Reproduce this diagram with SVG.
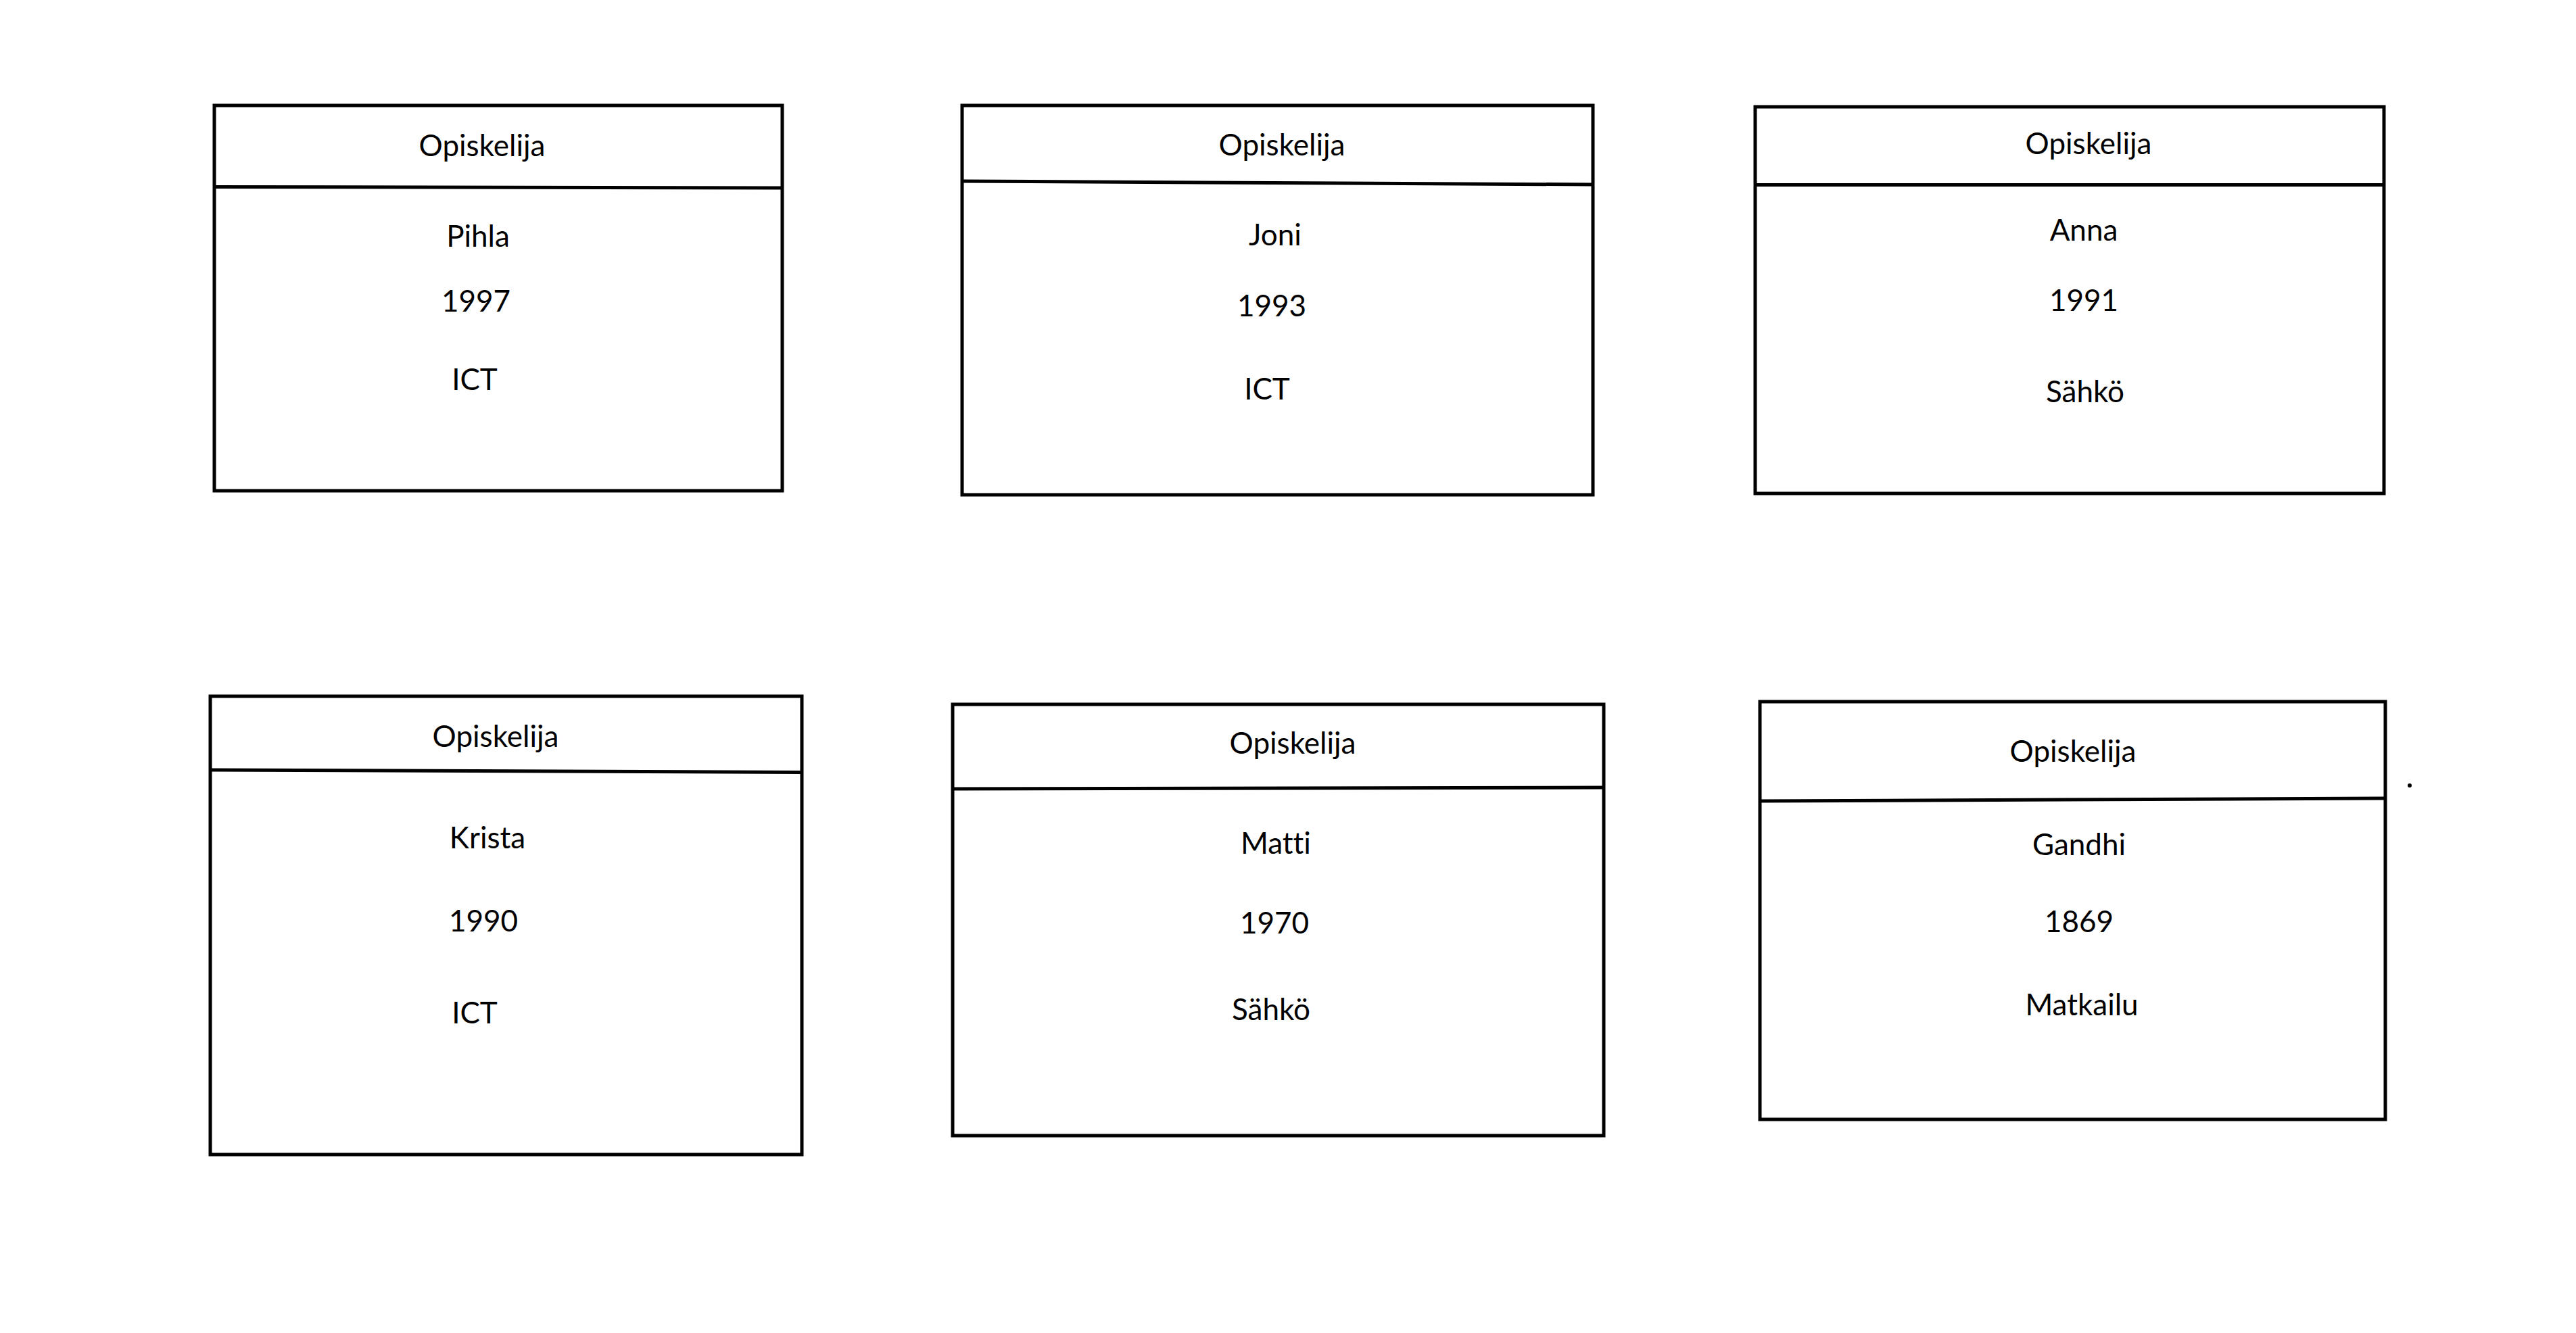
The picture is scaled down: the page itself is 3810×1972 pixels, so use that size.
<svg xmlns="http://www.w3.org/2000/svg" width="3810" height="1972" viewBox="0 0 3810 1972">
<style>
.box{fill:#fff;stroke:#000;stroke-width:5}
.sep{stroke:#000;stroke-width:5;fill:none}
text{font-family:Lato,"Liberation Sans",sans-serif;font-size:44px;fill:#000;text-anchor:middle;font-variant-ligatures:none}
</style>
<rect width="3810" height="1972" fill="#fff"/>
<g id="node-pihla">
<rect class="box" x="317" y="156" width="840" height="570"/>
<line class="sep" x1="317" y1="276.5" x2="1157" y2="278"/>
<text x="713" y="231">Opiskelija</text>
<text x="707" y="365">Pihla</text>
<text x="704" y="461">1997</text>
<text x="702" y="577">ICT</text>
</g>
<g id="node-joni">
<rect class="box" x="1423" y="156" width="933" height="576"/>
<line class="sep" x1="1423" y1="268" x2="2356" y2="273"/>
<text x="1896" y="230">Opiskelija</text>
<text x="1886" y="363">Joni</text>
<text x="1881" y="468">1993</text>
<text x="1874" y="591">ICT</text>
</g>
<g id="node-anna">
<rect class="box" x="2596" y="158" width="930" height="572"/>
<line class="sep" x1="2596" y1="273.5" x2="3526" y2="273.5"/>
<text x="3089" y="228">Opiskelija</text>
<text x="3082" y="356">Anna</text>
<text x="3082" y="460">1991</text>
<text x="3084" y="595">Sähkö</text>
</g>
<g id="node-krista">
<rect class="box" x="311" y="1030" width="875" height="678"/>
<line class="sep" x1="311" y1="1139" x2="1186" y2="1142.5"/>
<text x="733" y="1105">Opiskelija</text>
<text x="721" y="1255">Krista</text>
<text x="715" y="1378">1990</text>
<text x="702" y="1514">ICT</text>
</g>
<g id="node-matti">
<rect class="box" x="1409" y="1042" width="963" height="638"/>
<line class="sep" x1="1409" y1="1167" x2="2372" y2="1165"/>
<text x="1912" y="1115">Opiskelija</text>
<text x="1887" y="1263">Matti</text>
<text x="1885" y="1381">1970</text>
<text x="1880" y="1509">Sähkö</text>
</g>
<g id="node-gandhi">
<rect class="box" x="2603" y="1038" width="925" height="618"/>
<line class="sep" x1="2603" y1="1185" x2="3528" y2="1181"/>
<text x="3066" y="1127">Opiskelija</text>
<text x="3075" y="1265">Gandhi</text>
<text x="3075" y="1379">1869</text>
<text x="3079" y="1502">Matkailu</text>
<circle cx="3564" cy="1162" r="3" fill="#000"/>
</g>
<g id="connectors"></g>
</svg>
